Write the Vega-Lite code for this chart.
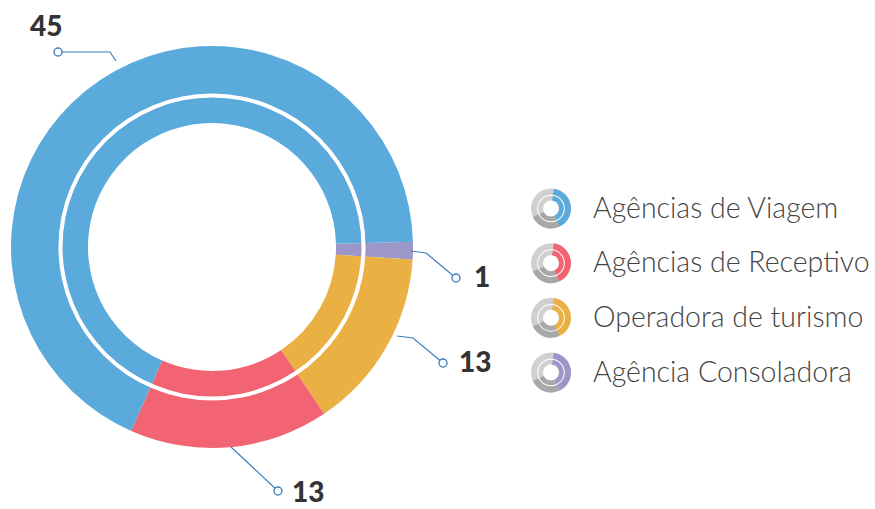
{
  "$schema": "https://vega.github.io/schema/vega-lite/v6.json",
  "padding": 0,
  "background": "white",
  "config": {"view": {"stroke": null}, "font": "Lato"},
  "datasets": {
    "segments": [
      {"cat": "Agência Consoladora", "value": 1, "share": 1.4, "ord": 1},
      {"cat": "Operadora de turismo", "value": 13, "share": 14.6, "ord": 2},
      {"cat": "Agências de Receptivo", "value": 13, "share": 16.0, "ord": 3},
      {"cat": "Agências de Viagem", "value": 45, "share": 68.0, "ord": 4}
    ],
    "leaders": [
      {"leader": "viagem", "ord": 1, "x": -0.48, "y": 0.93},
      {"leader": "viagem", "ord": 2, "x": -0.51, "y": 0.975},
      {"leader": "viagem", "ord": 3, "x": -0.77, "y": 0.975},
      {"leader": "consoladora", "ord": 1, "x": 0.995, "y": -0.02},
      {"leader": "consoladora", "ord": 2, "x": 1.07, "y": -0.03},
      {"leader": "consoladora", "ord": 3, "x": 1.22, "y": -0.155},
      {"leader": "operadora", "ord": 1, "x": 0.925, "y": -0.445},
      {"leader": "operadora", "ord": 2, "x": 1.005, "y": -0.455},
      {"leader": "operadora", "ord": 3, "x": 1.155, "y": -0.58},
      {"leader": "receptivo", "ord": 1, "x": 0.095, "y": -1.0},
      {"leader": "receptivo", "ord": 2, "x": 0.33, "y": -1.22}
    ],
    "ends": [
      {"leader": "viagem", "x": -0.77, "y": 0.975},
      {"leader": "consoladora", "x": 1.22, "y": -0.155},
      {"leader": "operadora", "x": 1.155, "y": -0.58},
      {"leader": "receptivo", "x": 0.33, "y": -1.22}
    ],
    "labels": [
      {"label": "45", "x": -0.91, "y": 1.095},
      {"label": "1", "x": 1.31, "y": -0.16},
      {"label": "13", "x": 1.235, "y": -0.585},
      {"label": "13", "x": 0.40, "y": -1.235}
    ],
    "legend": [
      {"cat": "Agências de Viagem"},
      {"cat": "Agências de Receptivo"},
      {"cat": "Operadora de turismo"},
      {"cat": "Agência Consoladora"}
    ]
  },
  "hconcat": [
    {
      "width": 424,
      "height": 494,
      "layer": [
        {
          "data": {"name": "segments"},
          "mark": {"type": "arc", "innerRadius": 124, "outerRadius": 201},
          "encoding": {
            "theta": {"field": "share", "type": "quantitative", "stack": true, "scale": {"range": [1.5446, 7.8278]}},
            "order": {"field": "ord", "type": "quantitative"},
            "color": {
              "field": "cat", "type": "nominal", "legend": null,
              "scale": {
                "domain": ["Agências de Viagem", "Agências de Receptivo", "Operadora de turismo", "Agência Consoladora"],
                "range": ["#5AAADC", "#F26472", "#EAB043", "#9D96C8"]
              }
            }
          }
        },
        {
          "data": {"values": [{"ring": "separator"}]},
          "mark": {"type": "arc", "theta": 0, "theta2": 6.2832, "innerRadius": 149.5, "outerRadius": 153.5, "fill": "white"},
          "encoding": {}
        },
        {
          "data": {"name": "leaders"},
          "mark": {"type": "line", "color": "#3B7DBF", "strokeWidth": 1.2},
          "encoding": {
            "x": {"field": "x", "type": "quantitative", "axis": null, "scale": {"domain": [-1.06, 1.06], "nice": false, "zero": false}},
            "y": {"field": "y", "type": "quantitative", "axis": null, "scale": {"domain": [-1.235, 1.235], "nice": false, "zero": false}},
            "detail": {"field": "leader"},
            "order": {"field": "ord", "type": "quantitative"}
          }
        },
        {
          "data": {"name": "ends"},
          "mark": {"type": "point", "filled": true, "fill": "white", "stroke": "#3B7DBF", "strokeWidth": 1.3, "size": 64, "opacity": 1},
          "encoding": {
            "x": {"field": "x", "type": "quantitative"},
            "y": {"field": "y", "type": "quantitative"}
          }
        },
        {
          "data": {"name": "labels"},
          "mark": {"type": "text", "align": "left", "baseline": "middle", "font": "Lato", "fontWeight": 900, "fontSize": 28, "color": "#333333"},
          "encoding": {
            "x": {"field": "x", "type": "quantitative"},
            "y": {"field": "y", "type": "quantitative"},
            "text": {"field": "label"}
          }
        }
      ]
    },
    {
      "width": 340,
      "height": 494,
      "data": {"name": "legend"},
      "encoding": {
        "y": {"field": "cat", "type": "ordinal", "axis": null, "sort": null, "scale": {"type": "point", "padding": 0, "range": [208.5, 372.5]}}
      },
      "layer": [
        {
          "mark": {"type": "arc", "theta": 0, "theta2": 6.2832, "innerRadius": 8, "outerRadius": 20, "fill": "#D0D0D0"},
          "encoding": {"x": {"datum": 2, "type": "quantitative", "axis": null, "scale": {"domain": [0, 34], "nice": false}}}
        },
        {
          "mark": {"type": "arc", "theta": 2.705, "theta2": 4.276, "innerRadius": 8, "outerRadius": 20, "fill": "#A8A8A8"},
          "encoding": {"x": {"datum": 2, "type": "quantitative"}}
        },
        {
          "mark": {"type": "arc", "theta": 0.14, "theta2": 2.705, "innerRadius": 8, "outerRadius": 20},
          "encoding": {
            "x": {"datum": 2, "type": "quantitative"},
            "color": {
              "field": "cat", "type": "nominal", "legend": null,
              "scale": {
                "domain": ["Agências de Viagem", "Agências de Receptivo", "Operadora de turismo", "Agência Consoladora"],
                "range": ["#1E9BD7", "#F15A6E", "#EFB23C", "#9B91C9"]
              }
            }
          }
        },
        {
          "mark": {"type": "arc", "theta": 0, "theta2": 6.2832, "innerRadius": 12.8, "outerRadius": 13.8, "fill": "white"},
          "encoding": {"x": {"datum": 2, "type": "quantitative"}}
        },
        {
          "mark": {"type": "text", "align": "left", "baseline": "middle", "font": "Lato", "fontWeight": 300, "fontSize": 28.5, "color": "#444444"},
          "encoding": {
            "x": {"datum": 6.2, "type": "quantitative"},
            "text": {"field": "cat"}
          }
        }
      ]
    }
  ],
  "spacing": 107,
  "bounds": "flush"
}
